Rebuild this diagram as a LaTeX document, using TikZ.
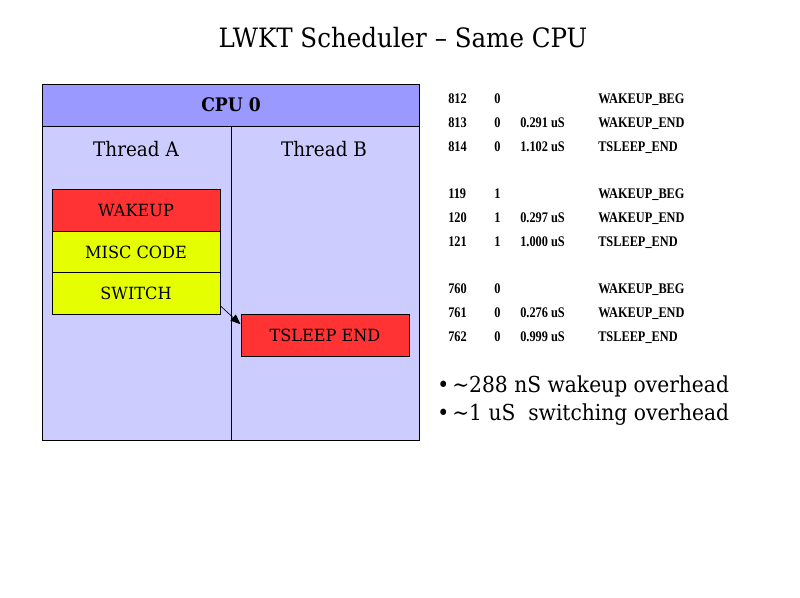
\documentclass[tikz,border=0pt]{standalone}
\usepackage{fontspec}
\setmainfont[FakeStretch=0.92]{DejaVu Serif}
\newfontfamily\boxfont[FakeStretch=0.96]{DejaVu Serif}
\newfontfamily\tablefont[FakeStretch=0.84]{Liberation Serif}
\usetikzlibrary{arrows.meta,calc}
\definecolor{cpuhead}{HTML}{9999FF}
\definecolor{cpubody}{HTML}{CCCCFF}
\definecolor{evred}{HTML}{FF3333}
\definecolor{evyellow}{HTML}{E6FF00}
\begin{document}
\begin{tikzpicture}[x=0.75pt,y=-0.75pt,
  evbox/.style={draw=black,line width=0.75pt,minimum width=126pt,minimum height=31.5pt,inner sep=0pt,font=\boxfont\fontsize{12.6}{14}\selectfont},
  hdr/.style={font=\fontsize{15}{18}\selectfont},
  row/.style={anchor=base west,inner sep=0pt,font=\tablefont\bfseries\fontsize{11}{13}\selectfont},
  bullet/.style={anchor=base west,inner sep=0pt,font=\fontsize{16.5}{20}\selectfont}]
\useasboundingbox (0,0) rectangle (800,597);
\fill[white] (0,0) rectangle (800,597);

% title
\node[font=\fontsize{20}{24}\selectfont] (title) at (403,38) {LWKT Scheduler -- Same CPU};

% CPU frame
\fill[cpubody] (42,126) rectangle (419,440);
\fill[cpuhead] (42,84) rectangle (419,126);
\draw[line width=0.75pt] (42,84) rectangle (419,440);
\draw[line width=0.75pt] (42,126) -- (419,126);
\draw[line width=0.75pt] (231,126) -- (231,440);
\node[font=\bfseries\fontsize{14}{17}\selectfont] (cpu) at (231,105) {CPU 0};
\node[hdr] (tha) at (136,149) {Thread A};
\node[hdr] (thb) at (324,149) {Thread B};

% thread A events
\node[evbox,fill=evred] (wake) at (136,210) {WAKEUP};
\node[evbox,fill=evyellow] (misc) at (136,252) {MISC CODE};
\node[evbox,fill=evyellow] (switch) at (136,293.5) {SWITCH};
% thread B event
\node[evbox,fill=evred] (tsleep) at (325,335) {TSLEEP END};

\draw[line width=0.5pt,-{Triangle[length=7.5pt,width=6pt]}] ($(switch.south east)+(0,-9)$) -- ($(tsleep.north west)!0.25!(tsleep.south west)$);

% trace listing
\foreach \y/\n/\c/\t/\e [count=\i] in {
  103/812/0//WAKEUP\_BEG, 127/813/0/0.291 uS/WAKEUP\_END, 151/814/0/1.102 uS/TSLEEP\_END,
  198/119/1//WAKEUP\_BEG, 222/120/1/0.297 uS/WAKEUP\_END, 246/121/1/1.000 uS/TSLEEP\_END,
  293/760/0//WAKEUP\_BEG, 317/761/0/0.276 uS/WAKEUP\_END, 341/762/0/0.999 uS/TSLEEP\_END}{
  \node[row] (n\i) at (448,\y) {\n};
  \node[row] (c\i) at (494,\y) {\c};
  \node[row] (t\i) at (520,\y) {\t};
  \node[row] (e\i) at (598,\y) {\e};
}

% summary
\node[bullet] (d1) at (437,392) {•};
\node[bullet] (b1) at (452,392) {\textasciitilde288 nS wakeup overhead};
\node[bullet] (d2) at (437,420) {•};
\node[bullet] (b2) at (452,420) {\textasciitilde1 uS\ \ switching overhead};
\end{tikzpicture}
\end{document}
